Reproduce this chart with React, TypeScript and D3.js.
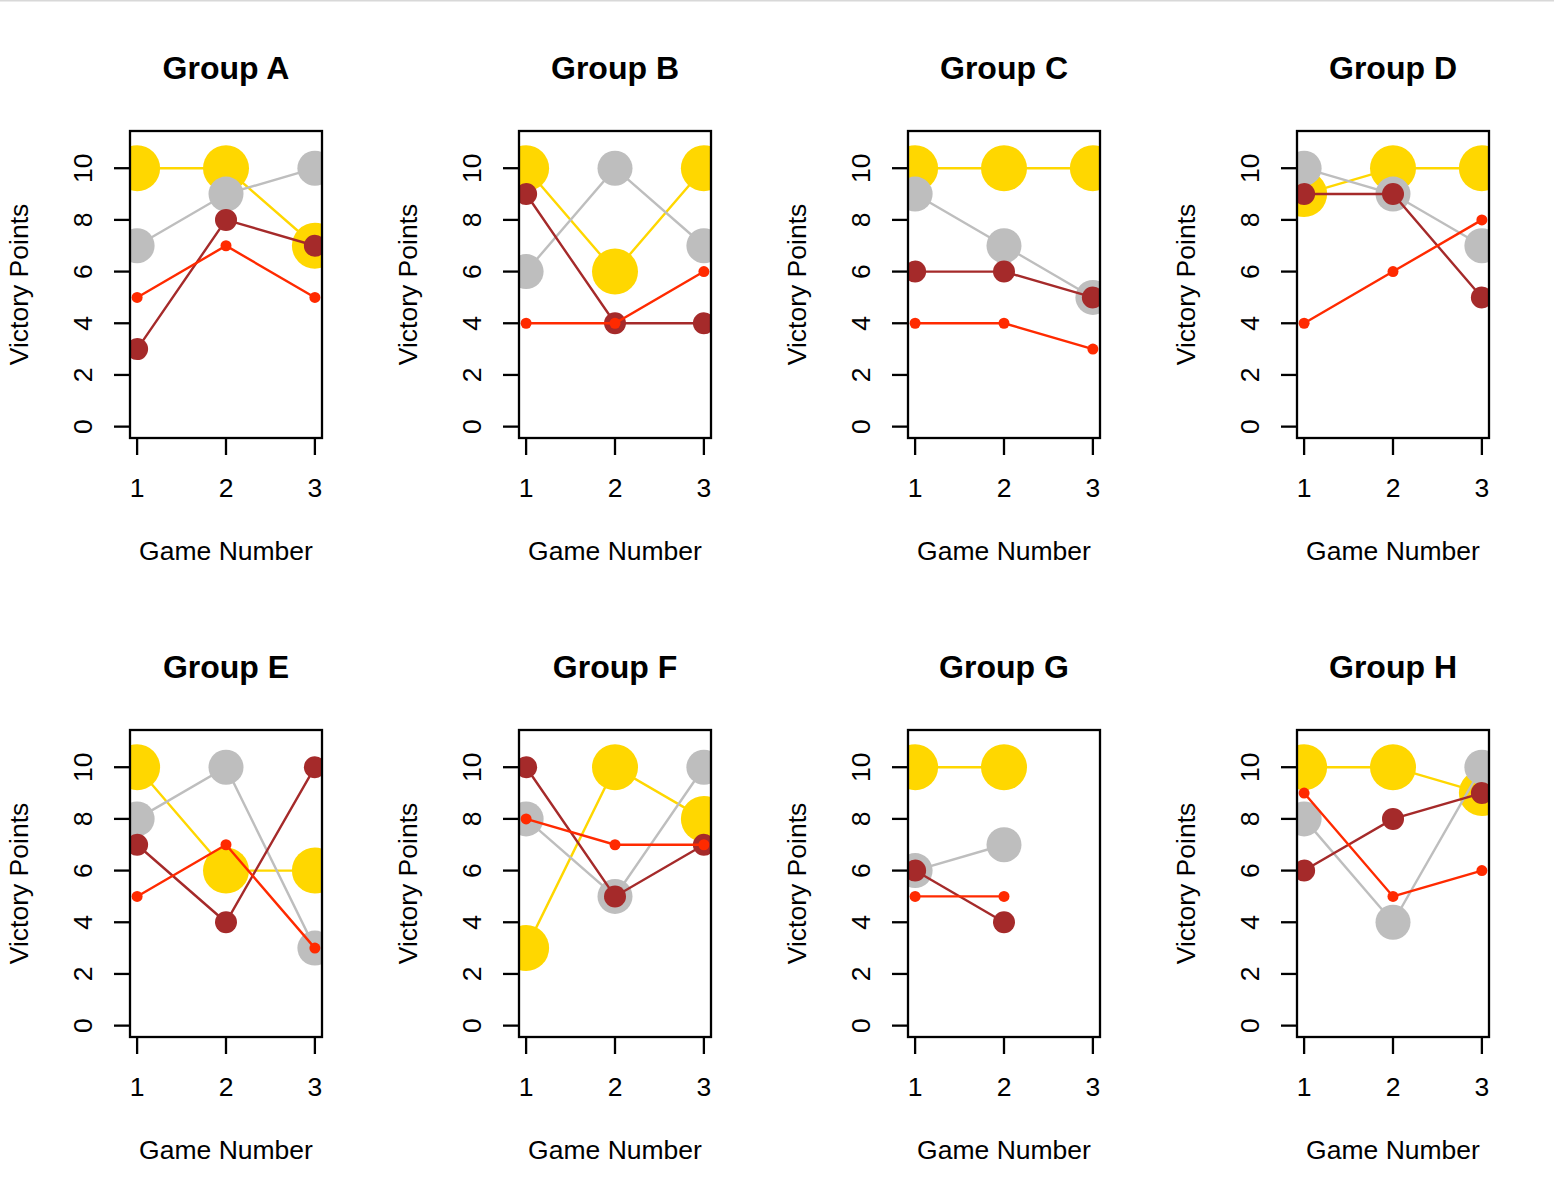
import React from "react";
import * as d3 from "d3";

const groups = ["Group A", "Group B", "Group C", "Group D", "Group E", "Group F", "Group G", "Group H"];
const games = [1, 2, 3];
const yTicks = [0, 2, 4, 6, 8, 10];

const goldSeries: (number | null)[][] = [
  [10, 10, 7], [10, 6, 10], [10, 10, 10], [9, 10, 10],
  [10, 6, 6], [3, 10, 8], [10, 10, null], [10, 10, 9],
];
const graySeries: (number | null)[][] = [
  [7, 9, 10], [6, 10, 7], [9, 7, 5], [10, 9, 7],
  [8, 10, 3], [8, 5, 10], [6, 7, null], [8, 4, 10],
];
const brownSeries: (number | null)[][] = [
  [3, 8, 7], [9, 4, 4], [6, 6, 5], [9, 9, 5],
  [7, 4, 10], [10, 5, 7], [6, 4, null], [6, 8, 9],
];
const redSeries: (number | null)[][] = [
  [5, 7, 5], [4, 4, 6], [4, 4, 3], [4, 6, 8],
  [5, 7, 3], [8, 7, 7], [5, 5, null], [9, 5, 6],
];

const seriesStyles = [
  { data: goldSeries, color: "#ffd700", r: 23 },
  { data: graySeries, color: "#bebebe", r: 17.5 },
  { data: brownSeries, color: "#a52a2a", r: 11 },
  { data: redSeries, color: "#ff2a00", r: 5.5 },
];

const FONT = "'Liberation Sans', Arial, Helvetica, sans-serif";
const LAB = 26.5;

function Panel({ idx }: { idx: number }) {
  const col = idx % 4;
  const row = Math.floor(idx / 4);
  const left = 130 + 389 * col;
  const top = 131 + 599 * row;
  const w = 192;
  const h = 307;
  const x = d3.scaleLinear().domain([0.92, 3.08]).range([left, left + w]);
  const y = d3.scaleLinear().domain([-0.44, 11.44]).range([top + h, top]);
  const clipId = `clip-${idx}`;
  const cx = left + w / 2;
  const cy = top + h / 2;

  return (
    <g>
      <defs>
        <clipPath id={clipId}>
          <rect x={left} y={top} width={w} height={h} />
        </clipPath>
      </defs>
      <text x={cx} y={top - 52} textAnchor="middle" fontFamily={FONT} fontWeight="bold" fontSize={32} fill="#000">
        {groups[idx]}
      </text>
      <g clipPath={`url(#${clipId})`}>
        {seriesStyles.map((s, si) => {
          const vals = s.data[idx];
          const pts = games
            .map((g, i) => ({ g, v: vals[i] }))
            .filter((p) => p.v !== null) as { g: number; v: number }[];
          const line = d3
            .line<{ g: number; v: number }>()
            .x((p) => x(p.g))
            .y((p) => y(p.v));
          return (
            <g key={si}>
              <path d={line(pts) || ""} fill="none" stroke={s.color} strokeWidth={2.4} />
              {pts.map((p, pi) => (
                <circle key={pi} cx={x(p.g)} cy={y(p.v)} r={s.r} fill={s.color} />
              ))}
            </g>
          );
        })}
      </g>
      <rect x={left} y={top} width={w} height={h} fill="none" stroke="#000" strokeWidth={2.3} />
      {yTicks.map((t) => (
        <g key={t}>
          <line x1={left - 16} x2={left} y1={y(t)} y2={y(t)} stroke="#000" strokeWidth={2.3} />
          <text
            transform={`translate(${left - 38},${y(t)}) rotate(-90)`}
            textAnchor="middle"
            fontFamily={FONT}
            fontSize={LAB}
            fill="#000"
          >
            {t}
          </text>
        </g>
      ))}
      {games.map((g) => (
        <g key={g}>
          <line x1={x(g)} x2={x(g)} y1={top + h} y2={top + h + 17} stroke="#000" strokeWidth={2.3} />
          <text x={x(g)} y={top + h + 59} textAnchor="middle" fontFamily={FONT} fontSize={LAB} fill="#000">
            {g}
          </text>
        </g>
      ))}
      <text x={cx} y={top + h + 122} textAnchor="middle" fontFamily={FONT} fontSize={LAB} fill="#000">
        Game Number
      </text>
      <text
        transform={`translate(${left - 102},${cy}) rotate(-90)`}
        textAnchor="middle"
        fontFamily={FONT}
        fontSize={LAB}
        fill="#000"
      >
        Victory Points
      </text>
    </g>
  );
}

export default function App() {
  return (
    <svg
      width={1554}
      height={1198}
      style={{ position: "absolute", left: 0, top: 0, background: "#fff" }}
    >
      <rect x={0} y={0} width={1554} height={1198} fill="#fff" />
      <line x1={0} x2={1554} y1={0.5} y2={0.5} stroke="#d8d8d8" strokeWidth={2} />
      {groups.map((_, i) => (
        <Panel key={i} idx={i} />
      ))}
    </svg>
  );
}
